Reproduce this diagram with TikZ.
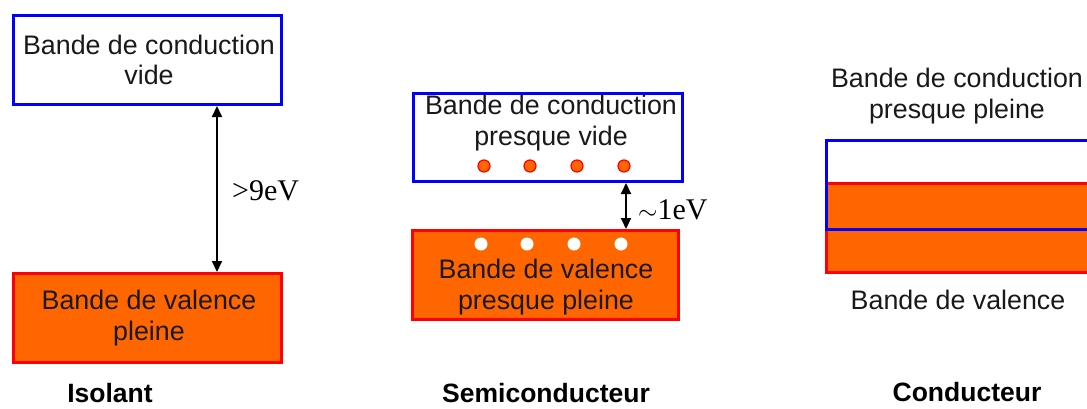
\documentclass[tikz,border=0pt]{standalone}
\usepackage{fontspec}
\setmainfont{Liberation Sans}
\newfontfamily\serifnum{Liberation Serif}
\usetikzlibrary{arrows.meta}
\definecolor{bandorange}{HTML}{FF6600}
\definecolor{bandblue}{HTML}{0000FF}
\definecolor{bandred}{HTML}{FF0000}
\tikzset{
  cband/.style={draw=bandblue, line width=3pt, fill=white, inner sep=0pt},
  vband/.style={draw=bandred, line width=3pt, fill=bandorange, inner sep=0pt},
  lbl/.style={font=\fontsize{26.8}{30.5}\selectfont, align=center, inner sep=0pt, text=black!90},
  title/.style={font=\fontsize{26.5}{30}\selectfont\bfseries, inner sep=0pt, anchor=base},
  gap/.style={font=\serifnum\fontsize{30}{32}\selectfont, inner sep=0pt, anchor=west},
  gaparrow/.style={{Triangle[length=11pt,width=10pt]}-{Triangle[length=11pt,width=10pt]}, line width=2pt},
  edot/.style={circle, draw=bandred, line width=1.2pt, fill=bandorange, minimum size=12pt, inner sep=0pt},
  hdot/.style={circle, fill=white, minimum size=13pt, inner sep=0pt},
}
\begin{document}
\begin{tikzpicture}[x=1pt,y=-1pt]
\useasboundingbox (0,0) rectangle (1087,408);
\clip (0,0) rectangle (1087,408);

% ---- Isolant ----
\node[cband, minimum width=268pt, minimum height=89pt] (c1) at (147.5,60) {};
\node[vband, minimum width=268pt, minimum height=89pt] (v1) at (147.5,318) {};
\node[lbl] (c1t) at (149,60) {Bande de conduction\\vide};
\node[lbl] (v1t) at (149,318) {Bande de valence\\pleine};
\coordinate (a1) at (217,0);
\draw[gaparrow] (c1.south -| a1) -- (v1.north -| a1);
\node[gap] (g1) at (232,191) {>9eV};
\node[title] (t1) at (110,402) {Isolant};

% ---- Semiconducteur ----
\node[cband, minimum width=269pt, minimum height=88pt] (c2) at (548,137.5) {};
\node[vband, minimum width=266pt, minimum height=89pt] (v2) at (545.5,275) {};
\node[lbl] (c2t) at (551,123) {Bande de conduction\\presque vide};
\node[lbl] (v2t) at (546,287) {Bande de valence\\presque pleine};
\node[edot] (e1) at (484,166) {};
\node[edot] (e2) at (530,166) {};
\node[edot] (e3) at (577,166) {};
\node[edot] (e4) at (624,166) {};
\node[hdot] (h1) at (481,244) {};
\node[hdot] (h2) at (527,244) {};
\node[hdot] (h3) at (574,244) {};
\node[hdot] (h4) at (621,244) {};
\coordinate (a2) at (626,0);
\draw[gaparrow] (c2.south -| a2) -- (v2.north -| a2);
\node[gap] (g2) at (638,210) {$\sim$1eV};
\node[title] (t2) at (546,402) {Semiconducteur};

% ---- Conducteur ----
\node[vband, minimum width=300pt, minimum height=89pt, anchor=north west] (v3) at (824.5,181.5) {};
\node[draw=bandblue, line width=3pt, minimum width=300pt, minimum height=89pt, anchor=north west, inner sep=0pt] (c3) at (824.5,138.5) {};
\node[lbl] (c3t) at (957,96) {Bande de conduction\\presque pleine};
\node[lbl] (v3t) at (958,300) {Bande de valence};
\node[title] (t3) at (967,401) {Conducteur};
\end{tikzpicture}
\end{document}
